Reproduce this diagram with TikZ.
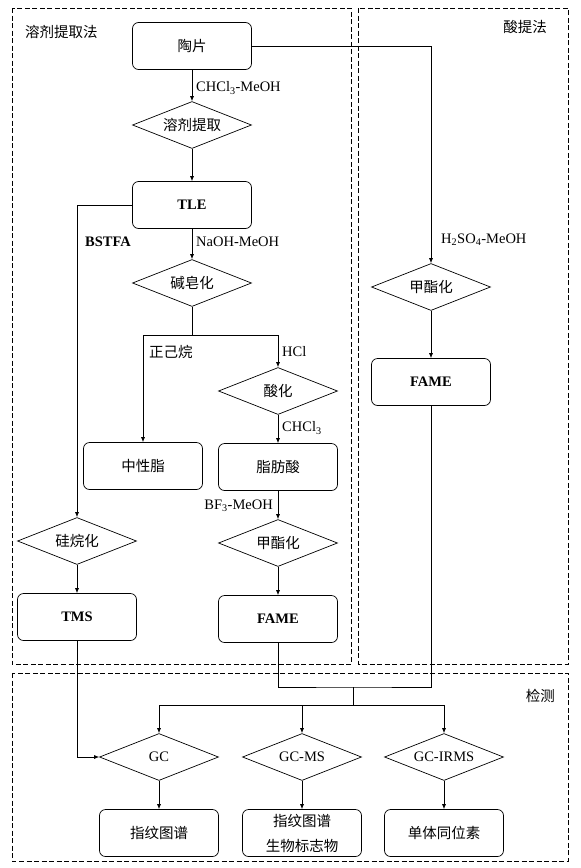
\documentclass[tikz,border=0pt]{standalone}
\usepackage{fontspec}
\setmainfont{Liberation Serif}
\newfontfamily\cjk{Noto Sans CJK SC}
\usetikzlibrary{shapes.geometric,arrows.meta}

\begin{document}
\begin{tikzpicture}[x=1pt,y=-1pt,font=\fontsize{14.5}{17}\selectfont,
  box/.style={draw,rounded corners=6pt,minimum width=119pt,minimum height=47pt,inner sep=0pt,line width=0.7pt},
  choice/.style={draw,diamond,aspect=2.5,minimum width=119pt,minimum height=47pt,inner sep=0pt,line width=0.7pt},
  region/.style={draw,dash pattern=on 5pt off 2.5pt,line width=0.7pt},
  link/.style={-{Latex[length=5pt,width=4pt]},line width=0.7pt},
  wire/.style={line width=0.7pt},
  tag/.style={inner sep=0pt}]
  \useasboundingbox (0,0) rectangle (581,868);

  \draw[region] (12,8) rectangle (351,664);
  \draw[region] (358,8) rectangle (568,664);
  \draw[region] (12,673) rectangle (568,861);
  \node[tag,anchor=west] (solvent) at (25,32) {\cjk 溶剂提取法};
  \node[tag,anchor=east] (acid) at (547,27) {\cjk 酸提法};
  \node[tag,anchor=east] (detect) at (555,696) {\cjk 检测};

  \node[box] (tao) at (192,46) {\cjk 陶片};
  \node[choice] (rjtq) at (192,125) {\cjk 溶剂提取};
  \node[box] (tle) at (192,205) {\textbf{TLE}};
  \node[choice] (jzh) at (192,283) {\cjk 碱皂化};
  \node[box] (zxz) at (143,466) {\cjk 中性脂};
  \node[choice] (shh) at (278,391) {\cjk 酸化};
  \node[box] (zfs) at (278,467) {\cjk 脂肪酸};
  \node[choice] (jzl) at (278,543) {\cjk 甲酯化};
  \node[box] (famel) at (278,619) {\textbf{FAME}};
  \node[choice] (gwh) at (77,541) {\cjk 硅烷化};
  \node[box] (tms) at (77,617) {\textbf{TMS}};
  \node[choice] (jzr) at (431,287) {\cjk 甲酯化};
  \node[box] (famer) at (431,382) {\textbf{FAME}};
  \node[choice] (gc) at (159,757) {GC};
  \node[choice] (gcms) at (302,757) {GC-MS};
  \node[choice] (gcirms) at (444,757) {GC-IRMS};
  \node[box] (zw1) at (159,833) {\cjk 指纹图谱};
  \node[box,align=center,font=\fontsize{14.5}{25}\selectfont\cjk] (zw2) at (302,833) {指纹图谱\\生物标志物};
  \node[box] (dtws) at (444,833) {\cjk 单体同位素};

  \node[tag,anchor=west] (chcl) at (196,88) {CHCl\textsubscript{3}-MeOH};
  \node[tag,anchor=west] (naoh) at (196,242) {NaOH-MeOH};
  \node[tag,anchor=west] (bstfa) at (85,242) {\textbf{BSTFA}};
  \node[tag,anchor=west] (zjw) at (149,352) {\cjk 正己烷};
  \node[tag,anchor=west] (hcl) at (282,352) {HCl};
  \node[tag,anchor=west] (chclb) at (282,428) {CHCl\textsubscript{3}};
  \node[tag,anchor=east] (bf) at (273,506) {BF\textsubscript{3}-MeOH};
  \node[tag,anchor=west] (hso) at (441,240) {H\textsubscript{2}SO\textsubscript{4}-MeOH};

  \coordinate (fork) at (192,335);
  \coordinate (merge) at (353,687);
  \coordinate (bus) at (353,705);

  \draw[link] (tao.south) -- (rjtq.north);
  \draw[link] (tao.east) -| (jzr.north);
  \draw[link] (rjtq.south) -- (tle.north);
  \draw[link] (tle.south) -- (jzh.north);
  \draw[link] (tle.west) -| (gwh.north);
  \draw[wire] (jzh.south) -- (fork);
  \draw[link] (fork) -| (zxz.north);
  \draw[link] (fork) -| (shh.north);
  \draw[link] (shh.south) -- (zfs.north);
  \draw[link] (zfs.south) -- (jzl.north);
  \draw[link] (jzl.south) -- (famel.north);
  \draw[link] (gwh.south) -- (tms.north);
  \draw[link] (jzr.south) -- (famer.north);
  \draw[link] (tms.south) |- (gc.west);
  \draw[wire] (famel.south) |- (merge) -| (famer.south);
  \draw[wire] (merge) -- (bus);
  \draw[link] (bus) -| (gc.north);
  \draw[link] (bus) -| (gcms.north);
  \draw[link] (bus) -| (gcirms.north);
  \draw[link] (gc.south) -- (zw1.north);
  \draw[link] (gcms.south) -- (zw2.north);
  \draw[link] (gcirms.south) -- (dtws.north);
\end{tikzpicture}
\end{document}
